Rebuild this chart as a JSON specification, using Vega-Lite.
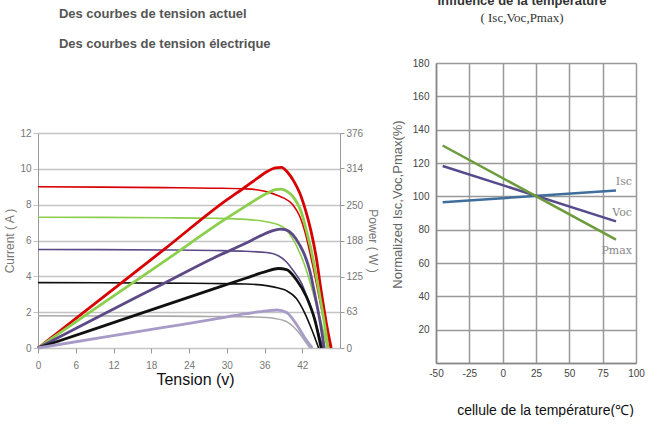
{
  "$schema": "https://vega.github.io/schema/vega-lite/v6.json",
  "padding": {"left": 3, "top": -5, "right": 0, "bottom": 0},
  "background": "white",
  "config": {"view": {"stroke": null}, "font": "Liberation Sans"},
  "bounds": "flush",
  "spacing": 96,
  "resolve": {"scale": {"color": "independent"}},
  "hconcat": [
    {
      "width": 302,
      "height": 300,
      "title": {"text": ["Des courbes de tension actuel", "Des courbes de tension électrique"], "anchor": "start", "dx": 55, "fontSize": 13, "fontWeight": "bold", "color": "#555555", "lineHeight": 30, "offset": 12, "font": "Liberation Sans"},
      "layer": [
        {
          "data": {"values": [
            {"s":"Ri","v":0,"a":9.0},{"s":"Ri","v":10,"a":8.98},{"s":"Ri","v":20,"a":8.95},{"s":"Ri","v":28,"a":8.92},{"s":"Ri","v":33,"a":8.88},{"s":"Ri","v":35,"a":8.82},{"s":"Ri","v":36.6,"a":8.7},{"s":"Ri","v":38.2,"a":8.5},{"s":"Ri","v":39,"a":8.38},{"s":"Ri","v":40.5,"a":8.0},{"s":"Ri","v":41.6,"a":7.35},{"s":"Ri","v":42.6,"a":6.25},{"s":"Ri","v":43.2,"a":5.35},{"s":"Ri","v":44,"a":4.05},{"s":"Ri","v":44.7,"a":2.8},{"s":"Ri","v":45.5,"a":1.45},{"s":"Ri","v":46,"a":0.7},{"s":"Ri","v":46.5,"a":0},
            {"s":"Gi","v":0,"a":7.3},{"s":"Gi","v":10,"a":7.29},{"s":"Gi","v":20,"a":7.27},{"s":"Gi","v":28,"a":7.24},{"s":"Gi","v":33,"a":7.18},{"s":"Gi","v":36.3,"a":7.05},{"s":"Gi","v":38.2,"a":6.88},{"s":"Gi","v":39.3,"a":6.65},{"s":"Gi","v":40.3,"a":6.2},{"s":"Gi","v":41.3,"a":5.55},{"s":"Gi","v":42.3,"a":4.7},{"s":"Gi","v":43.3,"a":3.6},{"s":"Gi","v":44.3,"a":2.35},{"s":"Gi","v":45.2,"a":1.15},{"s":"Gi","v":46,"a":0},
            {"s":"Pi","v":0,"a":5.5},{"s":"Pi","v":10,"a":5.49},{"s":"Pi","v":20,"a":5.47},{"s":"Pi","v":28,"a":5.44},{"s":"Pi","v":33,"a":5.4},{"s":"Pi","v":36.3,"a":5.33},{"s":"Pi","v":38.2,"a":5.15},{"s":"Pi","v":39.5,"a":4.8},{"s":"Pi","v":40.5,"a":4.35},{"s":"Pi","v":41.9,"a":3.61},{"s":"Pi","v":42.9,"a":2.7},{"s":"Pi","v":44,"a":1.56},{"s":"Pi","v":44.7,"a":0.7},{"s":"Pi","v":45.3,"a":0},
            {"s":"Ki","v":0,"a":3.65},{"s":"Ki","v":10,"a":3.64},{"s":"Ki","v":20,"a":3.62},{"s":"Ki","v":27.8,"a":3.6},{"s":"Ki","v":33,"a":3.57},{"s":"Ki","v":36.3,"a":3.48},{"s":"Ki","v":38.2,"a":3.35},{"s":"Ki","v":39.5,"a":3.2},{"s":"Ki","v":41.1,"a":2.75},{"s":"Ki","v":42.4,"a":1.95},{"s":"Ki","v":43.6,"a":0.95},{"s":"Ki","v":44.6,"a":0},
            {"s":"Li","v":0,"a":1.8},{"s":"Li","v":10,"a":1.79},{"s":"Li","v":20,"a":1.78},{"s":"Li","v":27.8,"a":1.76},{"s":"Li","v":33,"a":1.74},{"s":"Li","v":36.3,"a":1.7},{"s":"Li","v":37.4,"a":1.66},{"s":"Li","v":39.5,"a":1.47},{"s":"Li","v":41.1,"a":1.0},{"s":"Li","v":42.2,"a":0.5},{"s":"Li","v":43.2,"a":0}
          ]},
          "mark": {"type": "line", "interpolate": "monotone", "strokeWidth": 1.6},
          "encoding": {
            "x": {"field": "v", "type": "quantitative", "scale": {"domain": [0, 48], "nice": false},
                  "axis": {"values": [0,6,12,18,24,30,36,42], "labelOverlap": false, "labelFlush": false, "title": "Tension (v)", "titleFontSize": 16, "titleFontWeight": "normal", "titleColor": "#111111", "labelColor": "#777777", "labelFontSize": 10, "tickColor": "#999999", "tickSize": 5, "domain": false, "grid": false, "offset": -15, "labelPadding": 7, "titlePadding": 1, "titleX": 157}},
            "y": {"field": "a", "type": "quantitative", "scale": {"domain": [0, 12], "range": [285, 70], "nice": false},
                  "axis": {"values": [0,2,4,6,8,10,12], "labelOverlap": false, "labelFlush": false, "title": "Current ( A )", "titleFontSize": 12, "titleFontWeight": "normal", "titleColor": "#777777", "labelColor": "#777777", "labelFontSize": 10, "grid": true, "gridColor": "#c4c4c4", "gridWidth": 1.6, "domainColor": "#999999", "tickColor": "#c4c4c4", "tickSize": 5, "labelPadding": 2, "titlePadding": 3}},
            "color": {"field": "s", "type": "nominal", "legend": null,
                      "scale": {"domain": ["Ri","Gi","Pi","Ki","Li","Rp","Gp","Pp","Kp","Lp"], "range": ["#d90000","#8ccf4c","#5c4a87","#111111","#aaaaaa","#d90000","#8ccf4c","#5c4a87","#111111","#a79bc7"]}}
          }
        },
        {
          "data": {"values": [
            {"s":"Rp","v":0,"w":0},{"s":"Rp","v":10,"w":86},{"s":"Rp","v":20,"w":172},{"s":"Rp","v":30,"w":259},{"s":"Rp","v":33,"w":282},{"s":"Rp","v":35,"w":298},{"s":"Rp","v":36.5,"w":309},{"s":"Rp","v":37.7,"w":315},{"s":"Rp","v":38.7,"w":316},{"s":"Rp","v":39.7,"w":307},{"s":"Rp","v":40.7,"w":291},{"s":"Rp","v":41.6,"w":271},{"s":"Rp","v":42.6,"w":238},{"s":"Rp","v":43.4,"w":204},{"s":"Rp","v":44.2,"w":160},{"s":"Rp","v":45,"w":100},{"s":"Rp","v":45.8,"w":45},{"s":"Rp","v":46.6,"w":0},
            {"s":"Gp","v":0,"w":0},{"s":"Gp","v":10,"w":76},{"s":"Gp","v":20,"w":151},{"s":"Gp","v":30,"w":227},{"s":"Gp","v":33,"w":248},{"s":"Gp","v":35,"w":262},{"s":"Gp","v":36.5,"w":271},{"s":"Gp","v":37.7,"w":277},{"s":"Gp","v":38.7,"w":278},{"s":"Gp","v":39.7,"w":273},{"s":"Gp","v":40.5,"w":265},{"s":"Gp","v":41.9,"w":236},{"s":"Gp","v":42.65,"w":206},{"s":"Gp","v":43.45,"w":170},{"s":"Gp","v":44.2,"w":128},{"s":"Gp","v":45,"w":78},{"s":"Gp","v":45.6,"w":38},{"s":"Gp","v":46.1,"w":0},
            {"s":"Pp","v":0,"w":0},{"s":"Pp","v":10,"w":57},{"s":"Pp","v":20,"w":113},{"s":"Pp","v":28,"w":158},{"s":"Pp","v":33,"w":183},{"s":"Pp","v":35.5,"w":197},{"s":"Pp","v":37,"w":204},{"s":"Pp","v":38.5,"w":208},{"s":"Pp","v":39.3,"w":207},{"s":"Pp","v":40.5,"w":198},{"s":"Pp","v":41.6,"w":180},{"s":"Pp","v":42.4,"w":162},{"s":"Pp","v":43.2,"w":135},{"s":"Pp","v":44.1,"w":88},{"s":"Pp","v":44.9,"w":42},{"s":"Pp","v":45.5,"w":0},
            {"s":"Kp","v":0,"w":0},{"s":"Kp","v":10,"w":37},{"s":"Kp","v":20,"w":74},{"s":"Kp","v":27.8,"w":103},{"s":"Kp","v":33,"w":122},{"s":"Kp","v":36.3,"w":134},{"s":"Kp","v":38.2,"w":139},{"s":"Kp","v":39.5,"w":137},{"s":"Kp","v":41.1,"w":119},{"s":"Kp","v":42.65,"w":90},{"s":"Kp","v":44,"w":49},{"s":"Kp","v":45,"w":0},
            {"s":"Lp","v":0,"w":0},{"s":"Lp","v":10,"w":18},{"s":"Lp","v":20,"w":36},{"s":"Lp","v":27.8,"w":50},{"s":"Lp","v":33.1,"w":60},{"s":"Lp","v":36.3,"w":65},{"s":"Lp","v":38,"w":66.5},{"s":"Lp","v":39.5,"w":62},{"s":"Lp","v":41.1,"w":41},{"s":"Lp","v":42.4,"w":18},{"s":"Lp","v":43.6,"w":0}
          ]},
          "mark": {"type": "line", "interpolate": "monotone", "strokeWidth": 2.8},
          "encoding": {
            "x": {"field": "v", "type": "quantitative"},
            "y": {"field": "w", "type": "quantitative", "scale": {"domain": [0, 376], "range": [285, 70], "nice": false},
                  "axis": {"orient": "right", "values": [0,63,125,188,250,314,376], "labelOverlap": false, "labelFlush": false, "title": "Power ( W )", "titleFontSize": 12, "titleFontWeight": "normal", "titleColor": "#777777", "labelColor": "#777777", "labelFontSize": 10, "grid": false, "domainColor": "#999999", "tickColor": "#999999", "tickSize": 4, "labelPadding": 2, "titlePadding": 3}},
            "color": {"field": "s", "type": "nominal", "legend": null}
          }
        }
      ],
      "resolve": {"scale": {"y": "independent"}, "axis": {"y": "independent"}}
    },
    {
      "width": 200,
      "height": 300,
      "title": {"text": "Influence de la température", "subtitle": "( Isc,Voc,Pmax)", "anchor": "middle", "dx": -14, "fontSize": 13, "fontWeight": "bold", "color": "#333333", "subtitleFontSize": 13, "subtitleColor": "#333333", "subtitleFont": "Liberation Sans Narrow", "offset": 33, "subtitlePadding": 4},
      "encoding": {
        "x": {"field": "t", "type": "quantitative", "scale": {"domain": [-50, 100], "nice": false},
              "axis": {"values": [-50,-25,0,25,50,75,100], "labelExpr": "'' + datum.value", "labelOverlap": false, "labelFlush": false, "grid": true, "gridColor": "#999999", "gridWidth": 1.5, "domainColor": "#888888", "domainWidth": 1.5, "tickSize": 0, "tickColor": "#999999", "labelPadding": 5, "labelColor": "#444444", "labelFontSize": 10, "title": "cellule de la température(℃)", "titleFontSize": 14, "titleFontWeight": "normal", "titleColor": "#111111", "titlePadding": 25, "titleX": 109}},
        "y": {"field": "p", "type": "quantitative", "scale": {"domain": [0, 180], "nice": false},
              "axis": {"values": [0,20,40,60,80,100,120,140,160,180], "labelOverlap": false, "labelFlush": false, "labelExpr": "datum.value == 0 ? '' : datum.label", "grid": true, "gridColor": "#999999", "gridWidth": 1.5, "domainColor": "#888888", "domainWidth": 1.5, "tickSize": 0, "tickColor": "#999999", "labelPadding": 7, "labelColor": "#444444", "labelFontSize": 10, "title": "Normalized Isc,Voc,Pmax(%)", "titleFontSize": 13, "titleFontWeight": "normal", "titleColor": "#666666", "titlePadding": 8, "titleY": 141}}
      },
      "layer": [
        {
          "data": {"values": [
            {"k":"Isc","t":-45,"p":96.5},{"k":"Isc","t":85,"p":103.5},
            {"k":"Voc","t":-45,"p":118.2},{"k":"Voc","t":85,"p":85},
            {"k":"Pmax","t":-45,"p":130.5},{"k":"Pmax","t":85,"p":74}
          ]},
          "mark": {"type": "line", "strokeWidth": 2.5},
          "encoding": {
            "color": {"field": "k", "type": "nominal", "legend": null,
                      "scale": {"domain": ["Isc","Voc","Pmax"], "range": ["#3f6e9d","#574b8d","#6c9b3c"]}}
          }
        },
        {
          "data": {"values": [
            {"k":"Isc","t":97,"p":108.6},{"k":"Voc","t":97,"p":90},{"k":"Pmax","t":97,"p":67}
          ]},
          "mark": {"type": "text", "font": "DejaVu Serif", "fontSize": 11, "align": "right", "baseline": "middle", "color": "#888888"},
          "encoding": {
            "text": {"field": "k", "type": "nominal"}
          }
        }
      ]
    }
  ]
}
